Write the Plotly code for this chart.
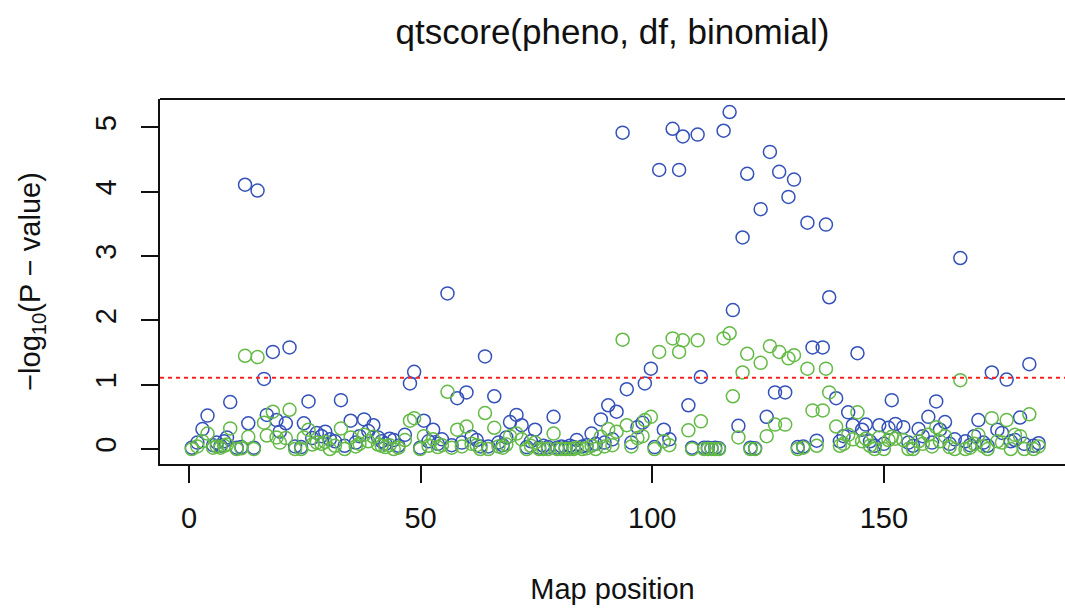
import plotly.graph_objects as go

# Marker map positions and the two -log10(P) series (blue: 1df test, green: corrected)
map_pos = [
    0.6, 1.8, 2.9, 4.0, 5.2, 6.0, 6.8, 7.6, 8.2, 8.9, 10.3, 11.3, 12.1, 12.8, 14.0, 14.8,
    16.2, 16.8, 18.1, 18.9, 19.6, 20.9, 21.7, 22.9, 24.2, 24.8, 25.8, 26.6, 27.6, 28.6,
    29.4, 30.4, 31.5, 32.8, 33.6, 34.9, 36.0, 36.8, 37.8, 38.7, 39.8, 40.8, 41.6, 42.4,
    43.3, 44.2, 45.2, 46.6, 47.7, 48.6, 49.9, 50.7, 51.7, 52.7, 53.7, 54.6, 55.8, 56.7,
    57.9, 58.9, 59.9, 61.0, 62.1, 62.9, 63.9, 64.6, 65.9, 66.8, 67.7, 68.5, 69.3, 70.7,
    71.8, 72.9, 73.8, 74.7, 75.6, 76.5, 77.5, 78.7, 79.5, 80.4, 81.3, 82.2, 83.0, 83.7,
    84.9, 85.8, 86.9, 87.8, 88.9, 89.7, 90.5, 91.4, 92.3, 93.6, 94.5, 95.5, 96.8, 97.9,
    98.4, 99.7, 100.5, 101.5, 102.5, 103.7, 104.4, 105.8, 106.6, 107.8, 108.6, 109.8,
    110.5, 111.2, 112.0, 112.8, 113.6, 114.4, 115.4, 116.7, 117.4, 118.6, 119.5, 120.5,
    121.2, 122.2, 123.4, 124.7, 125.4, 126.5, 127.4, 128.7, 129.4, 130.6, 131.4, 132.6,
    133.5, 134.6, 135.5, 136.8, 137.5, 138.2, 139.7, 140.5, 141.3, 142.3, 143.3, 144.3,
    145.3, 146.1, 147.0, 148.0, 149.0, 150.0, 151.0, 151.7, 152.5, 154.2, 155.3, 156.3,
    157.5, 158.4, 159.6, 160.4, 161.3, 162.1, 163.2, 164.2, 165.3, 166.5, 167.6, 168.6,
    169.5, 170.4, 171.5, 172.4, 173.3, 174.5, 175.5, 176.5, 177.4, 178.3, 179.4, 180.3,
    181.4, 182.3, 183.4,
]

logp_blue = [
    0.02, 0.10, 0.31, 0.52, 0.06, 0.10, 0.05, 0.12, 0.18, 0.73, 0.02, 0.03, 4.11, 0.40, 0.02, 4.02,
    1.09, 0.53, 1.51, 0.45, 0.27, 0.40, 1.58, 0.04, 0.03, 0.40, 0.74, 0.17, 0.25, 0.20,
    0.27, 0.15, 0.12, 0.76, 0.05, 0.44, 0.10, 0.20, 0.46, 0.28, 0.37, 0.18, 0.12, 0.08,
    0.16, 0.14, 0.05, 0.22, 1.02, 1.20, 0.02, 0.44, 0.12, 0.30, 0.08, 0.15, 2.42, 0.06,
    0.79, 0.10, 0.88, 0.19, 0.14, 0.04, 1.44, 0.04, 0.82, 0.10, 0.06, 0.18, 0.42, 0.53,
    0.37, 0.03, 0.12, 0.30, 0.02, 0.05, 0.03, 0.50, 0.02, 0.04, 0.02, 0.05, 0.03, 0.14,
    0.04, 0.06, 0.24, 0.08, 0.46, 0.10, 0.68, 0.15, 0.58, 4.92, 0.93, 0.10, 0.34, 0.41,
    1.02, 1.25, 0.03, 4.34, 0.30, 0.15, 4.98, 4.34, 4.86, 0.68, 0.02, 4.89,
    1.12, 0.02, 0.02, 0.01, 0.02, 0.01, 4.95, 5.24, 2.16, 0.36, 3.29, 4.28,
    0.02, 0.01, 3.73, 0.50, 4.62, 0.88, 4.31, 0.88, 3.92, 4.19, 0.03, 0.04,
    3.52, 1.58, 0.13, 1.58, 3.49, 2.36, 0.79, 0.12, 0.20, 0.57, 0.37, 1.49,
    0.30, 0.38, 0.12, 0.05, 0.37, 0.08, 0.33, 0.76, 0.39, 0.34, 0.10, 0.05,
    0.31, 0.20, 0.50, 0.10, 0.74, 0.30, 0.42, 0.08, 0.15, 2.97, 0.12, 0.06,
    0.20, 0.45, 0.10, 0.05, 1.19, 0.30, 0.25, 1.08, 0.12, 0.14, 0.49, 0.08,
    1.32, 0.05, 0.09,
]

logp_green = [
    0.00, 0.04, 0.12, 0.24, 0.02, 0.04, 0.02, 0.05, 0.07, 0.32, 0.00, 0.01, 1.45, 0.19, 0.00, 1.43,
    0.41, 0.21, 0.58, 0.18, 0.10, 0.17, 0.61, 0.00, 0.00, 0.18, 0.30, 0.07, 0.10, 0.08,
    0.11, 0.00, 0.05, 0.32, 0.00, 0.18, 0.04, 0.08, 0.22, 0.12, 0.19, 0.07, 0.05, 0.03,
    0.06, 0.00, 0.02, 0.14, 0.44, 0.48, 0.00, 0.20, 0.05, 0.15, 0.03, 0.06, 0.89, 0.02,
    0.30, 0.04, 0.35, 0.08, 0.06, 0.00, 0.56, 0.00, 0.33, 0.04, 0.02, 0.07, 0.20, 0.24,
    0.15, 0.00, 0.05, 0.10, 0.00, 0.00, 0.00, 0.24, 0.00, 0.00, 0.00, 0.00, 0.00, 0.02,
    0.00, 0.01, 0.05, 0.00, 0.19, 0.04, 0.31, 0.06, 0.27, 1.70, 0.37, 0.04, 0.17, 0.20,
    0.45, 0.50, 0.00, 1.51, 0.12, 0.06, 1.72, 1.51, 1.69, 0.29, 0.00, 1.69,
    0.43, 0.00, 0.00, 0.00, 0.00, 0.00, 1.72, 1.80, 0.82, 0.18, 1.19, 1.48,
    0.00, 0.00, 1.34, 0.20, 1.60, 0.38, 1.51, 0.38, 1.41, 1.46, 0.00, 0.02,
    1.25, 0.60, 0.05, 0.60, 1.25, 0.88, 0.35, 0.05, 0.08, 0.22, 0.15, 0.57,
    0.12, 0.16, 0.05, 0.00, 0.18, 0.00, 0.14, 0.19, 0.16, 0.14, 0.00, 0.00,
    0.12, 0.08, 0.22, 0.04, 0.34, 0.12, 0.20, 0.03, 0.00, 1.07, 0.00, 0.02,
    0.08, 0.22, 0.04, 0.00, 0.48, 0.12, 0.10, 0.45, 0.00, 0.22, 0.20, 0.00,
    0.54, 0.00, 0.04,
]

threshold = 1.11

x_ticks = [0, 50, 100, 150]
y_ticks = [0, 1, 2, 3, 4, 5]

BLUE = "#3451BA"
GREEN = "#63BA45"
FONT = "Liberation Sans, Arial, sans-serif"

fig = go.Figure()
fig.add_trace(go.Scatter(
    x=map_pos, y=logp_blue, mode="markers",
    marker=dict(symbol="circle-open", size=13, color=BLUE, line=dict(width=1.5, color=BLUE)),
    showlegend=False, hoverinfo="x+y",
))
fig.add_trace(go.Scatter(
    x=map_pos, y=logp_green, mode="markers",
    marker=dict(symbol="circle-open", size=13, color=GREEN, line=dict(width=1.5, color=GREEN)),
    showlegend=False, hoverinfo="x+y",
))

# significance threshold
fig.add_shape(type="line", xref="paper", x0=0, x1=1, yref="y", y0=threshold, y1=threshold,
              line=dict(color="#FF2020", width=2, dash="4px,4px"), layer="above")
# top edge of the plot box (right edge falls outside the page)
fig.add_shape(type="line", xref="paper", x0=0, x1=1, yref="paper", y0=1, y1=1,
              line=dict(color="#111111", width=1.8), layer="above")

fig.update_layout(
    width=1065, height=610,
    margin=dict(l=160, r=0, t=99, b=146),
    paper_bgcolor="white", plot_bgcolor="white",
    font=dict(family=FONT, color="#111111", size=29),
    title=dict(text="qtscore(pheno, df, binomial)", x=0.5, xref="paper", xanchor="center",
               y=1 - 32 / 610, yref="container", yanchor="middle",
               font=dict(size=35, family=FONT, color="#111111")),
    xaxis=dict(
        range=[-6.26, 189.1], tickvals=x_ticks, ticktext=[str(v) for v in x_ticks],
        ticks="outside", ticklen=17, tickwidth=1.6, tickcolor="#111111",
        showline=True, linecolor="#111111", linewidth=1.8, mirror=False,
        showgrid=False, zeroline=False, ticklabelstandoff=10,
        tickfont=dict(size=29, family=FONT),
        title=dict(text="Map position", standoff=46, font=dict(size=29, family=FONT)),
    ),
    yaxis=dict(
        range=[-0.233, 5.443], tickvals=y_ticks, ticktext=[str(v) for v in y_ticks],
        ticks="outside", ticklen=17, tickwidth=1.6, tickcolor="#111111", tickangle=-90,
        showline=True, linecolor="#111111", linewidth=1.8, mirror=False,
        showgrid=False, zeroline=False, ticklabelstandoff=14,
        tickfont=dict(size=29, family=FONT),
        title=dict(text="\u2212log<sub>10</sub>(P \u2212 value)", standoff=40,
                   font=dict(size=29, family=FONT)),
    ),
)

fig.write_html("out.html")
